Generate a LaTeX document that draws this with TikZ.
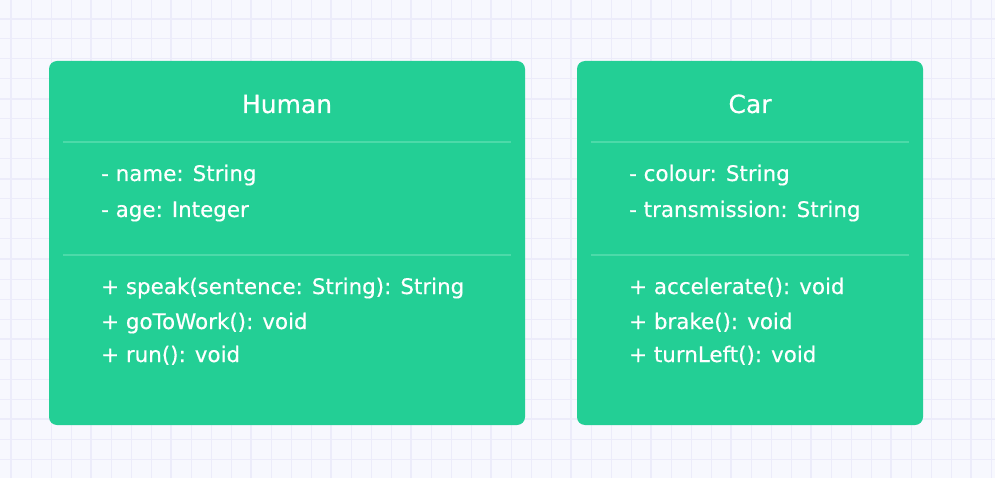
\documentclass[tikz,border=0pt]{standalone}
\usepackage{fontspec}
\setmainfont{DejaVu Sans}[FakeBold=0.4]
\usetikzlibrary{calc}

\definecolor{paper}{HTML}{F7F8FE}
\definecolor{gridln}{HTML}{ECECFA}
\definecolor{umlgreen}{HTML}{23CF95}
\definecolor{rulegreen}{HTML}{4CDAA9}

\begin{document}
\begin{tikzpicture}[x=1pt,y=-1pt,
    classbox/.style={fill=umlgreen, rounded corners=8pt, inner sep=0pt},
    title/.style={text=white, font=\fontsize{25}{30}\selectfont, anchor=base},
    member/.style={text=white, font=\fontsize{21.4}{26}\selectfont, anchor=base west, inner sep=0pt},
    divider/.style={rulegreen, line width=1.5pt}]
      \fill[paper] (0,0) rectangle (995,478);
      \useasboundingbox (0,0) rectangle (995,478);
      % grid
      \foreach \gx in {11,31,...,991}
        \draw[gridln, line width=1pt] (\gx,0) -- (\gx,478);
      \foreach \gy in {19,39,...,478}
        \draw[gridln, line width=1pt] (0,\gy) -- (995,\gy);
      \foreach \gx in {11,91,...,991}
        \draw[gridln, line width=1.3pt] (\gx,0) -- (\gx,478);
      \foreach \gy in {19,99,...,478}
        \draw[gridln, line width=1.3pt] (0,\gy) -- (995,\gy);

      % Human
      \path[classbox] (49,61) rectangle (525,425);
      \node[title] (human) at (287,113) {Human};
      \draw[divider] (63,142) -- (511,142);
      \node[member] (h-name) at (101,181) {- name: String};
      \node[member] (h-age) at (101,217) {- age: Integer};
      \draw[divider] (63,255) -- (511,255);
      \node[member] (h-speak) at (101,294) {+ speak(sentence: String): String};
      \node[member] (h-work) at (101,329) {+ goToWork(): void};
      \node[member] (h-run) at (101,362) {+ run(): void};

      % Car
      \path[classbox] (577,61) rectangle (923,425);
      \node[title] (car) at (750,113) {Car};
      \draw[divider] (591,142) -- (909,142);
      \node[member] (c-colour) at (629,181) {- colour: String};
      \node[member] (c-trans) at (629,217) {- transmission: String};
      \draw[divider] (591,255) -- (909,255);
      \node[member] (c-acc) at (629,294) {+ accelerate(): void};
      \node[member] (c-brake) at (629,329) {+ brake(): void};
      \node[member] (c-left) at (629,362) {+ turnLeft(): void};
\end{tikzpicture}
\end{document}
